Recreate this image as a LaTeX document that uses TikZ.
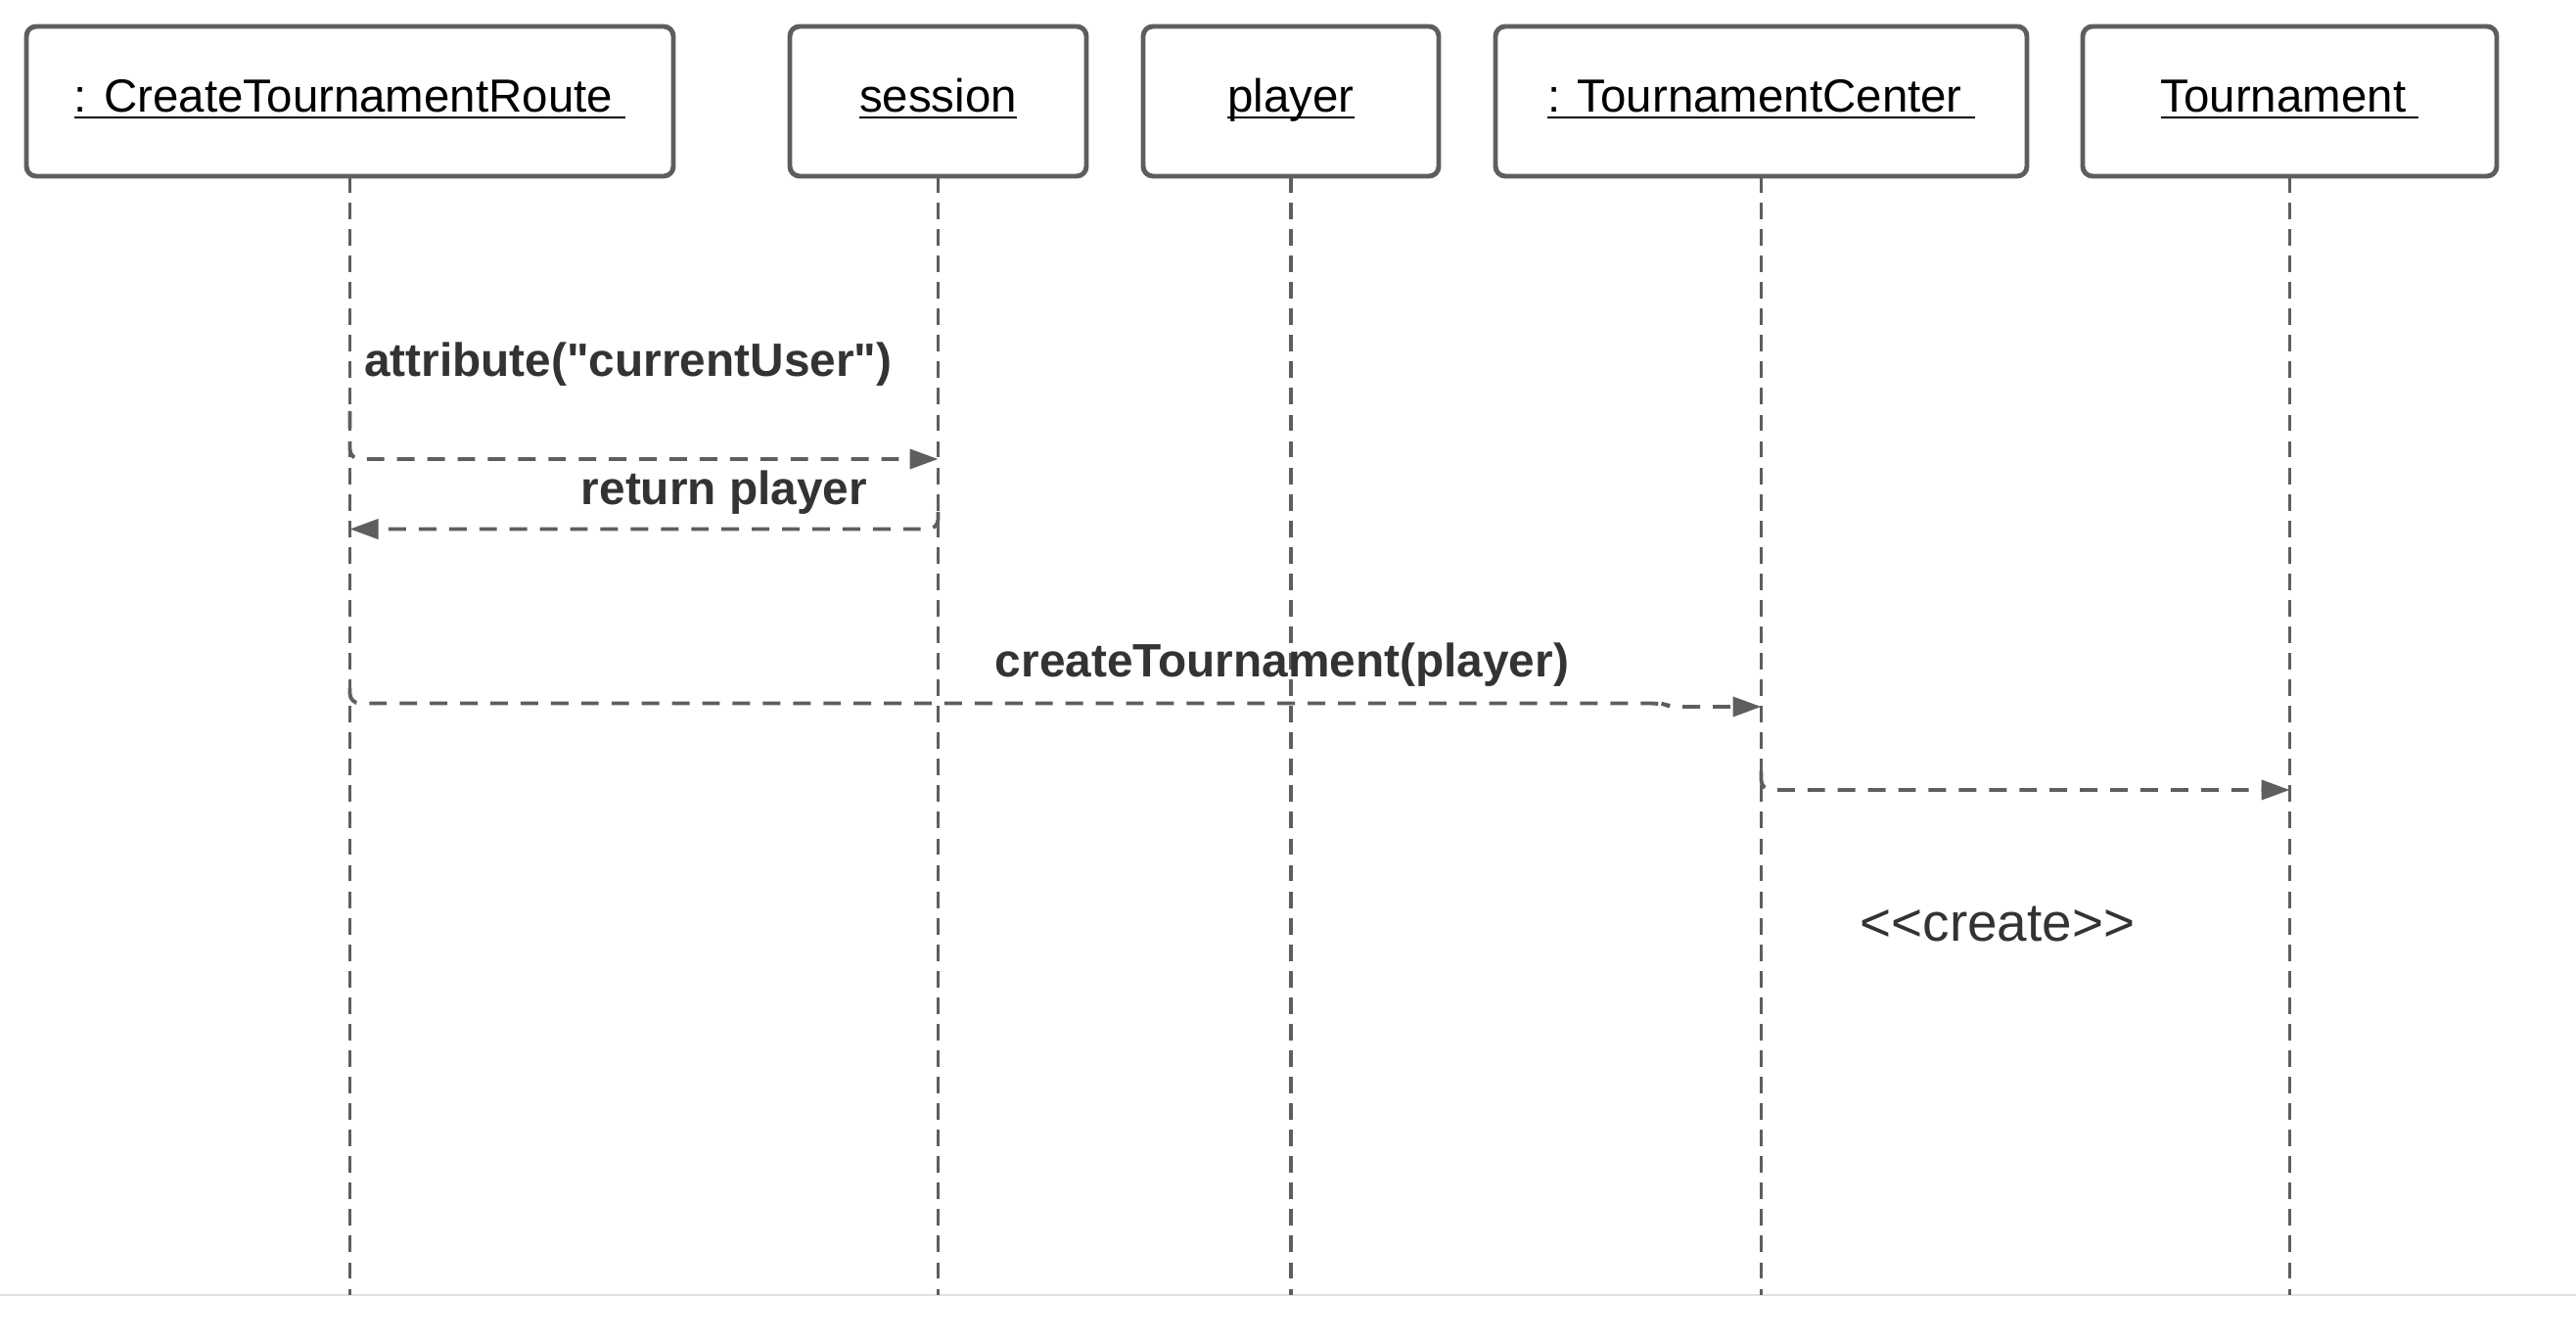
\documentclass[tikz,border=0pt]{standalone}
\usepackage{fontspec}
\setmainfont{Liberation Sans}[Ligatures=TeXOff]
\usepackage{tikz}
\usetikzlibrary{arrows.meta}
\usetikzlibrary{positioning}
\definecolor{linegray}{HTML}{5E5E5E}
\definecolor{textgray}{HTML}{333333}
\definecolor{framegray}{HTML}{E0E0E0}
\newcommand\objname[1]{\underline{\smash{#1}}}
\tikzstyle{obj} = [rectangle, draw=linegray, line width=1.4pt,
    rounded corners=0.1cm, minimum height=1.53cm, inner sep=0pt, outer sep=0pt,
    text height=0.35cm, text depth=0.12cm, font=\fontsize{13.5}{16}\selectfont]
\tikzstyle{life} = [draw=linegray, line width=0.9pt, dash pattern=on 4.8pt off 2.9pt]
\tikzstyle{call} = [draw=linegray, line width=1.1pt, dash pattern=on 5.1pt off 3.7pt,
    rounded corners=0.1cm, -{Triangle[length=0.29cm,width=0.2cm]}]
\tikzstyle{msg} = [text=textgray, inner sep=0pt, font=\fontsize{13.6}{16}\selectfont\bfseries]

\begin{document}
\begin{tikzpicture}[every text node part/.style={align=center}, auto]
	\useasboundingbox (0,0) rectangle (26.32,-13.72);
	\node [obj, minimum width=6.61cm] (route) at (3.575,-1.035) {\objname{: CreateTournamentRoute\ }};
	\node [obj, minimum width=3.03cm, right=1.19cm of route] (session) {\objname{session}};
	\node [obj, minimum width=3.02cm, right=0.58cm of session] (player) {\objname{player}};
	\node [obj, minimum width=5.43cm, right=0.58cm of player] (center) {\objname{: TournamentCenter\ }};
	\node [obj, minimum width=4.23cm, right=0.57cm of center] (tourn) {\objname{Tournament\ }};

	% bottom edge of the frame
	\coordinate (edgeL) at (0,-13.23);
	\coordinate (edgeR) at (26.32,-13.23);
	\draw [framegray, line width=0.7pt] (edgeL) -- (edgeR);

	% lifelines
	\foreach \o in {route,session,player,center,tourn}
		\path [life] (\o.south) -- (\o.south |- edgeL);

	\node [msg, anchor=base west] (getuser) at ([xshift=0.14cm]route.south |- 0,-3.85) {attribute("currentUser")};
	\node [msg, anchor=base] (retplayer) at ([xshift=-2.185cm]session.south |- 0,-5.16) {return player};
	\node [msg, anchor=base] (mkcall) at ([xshift=-0.09cm]player.south |- 0,-6.92) {createTournament(player)};
	\node [text=textgray, inner sep=0pt, font=\fontsize{15.6}{18}\selectfont, anchor=base] (stereo)
		at ([xshift=2.415cm]center.south |- 0,-9.62) {<{}<create>{}>};

	\path [call] (route.south |- 0,-4.2) |- (session.south |- 0,-4.69);
	\path [call] (session.south |- 0,-5.23) |- (route.south |- 0,-5.405);
	\path [call] (route.south |- 0,-7.03) |- ++(13.395,-0.155) -- ++(0.1,-0.035) -- (center.south |- 0,-7.22);
	\path [call] (center.south |- 0,-7.88) |- (tourn.south |- 0,-8.07);
%	\path [call] (center.south |- 0,-7.22) |- (tourn.south |- 0,-8.07);
\end{tikzpicture}
\end{document}
